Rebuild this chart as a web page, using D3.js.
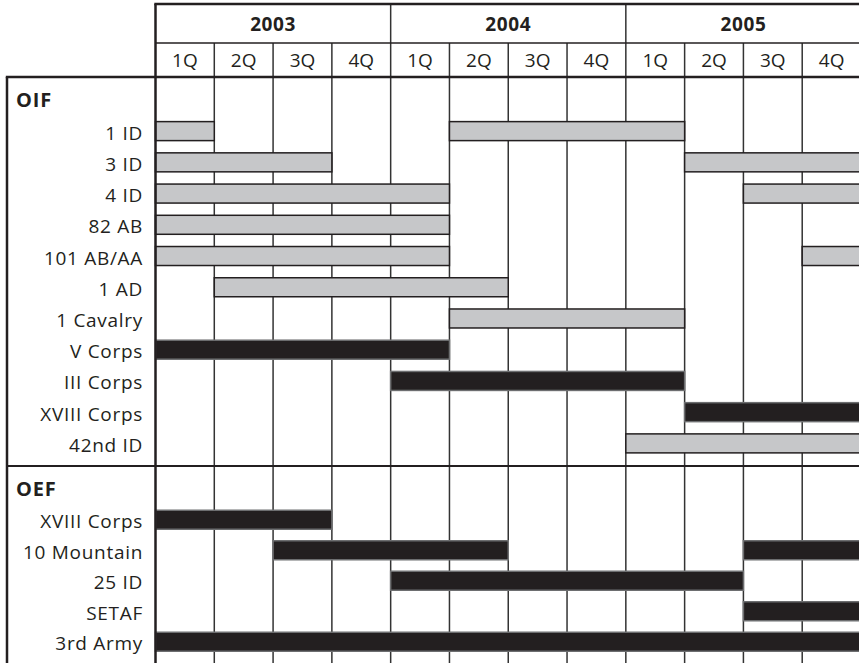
<!DOCTYPE html>
<html>
<head>
<meta charset="utf-8">
<script src="https://cdn.jsdelivr.net/npm/d3@7"></script>
<style>
  body { margin: 0; background: #fff; }
  text { font-family: "Open Sans", "Noto Sans", sans-serif; fill: #231f20; }
</style>
</head>
<body>
<svg id="chart" width="859" height="663"></svg>
<script>
var years = ["2003", "2004", "2005"];
var quarters = ["1Q", "2Q", "3Q", "4Q"];

// spans are [start quarter, end quarter], quarter 0 = 1Q 2003
var oifUnits = ["1 ID", "3 ID", "4 ID", "82 AB", "101 AB/AA", "1 AD", "1 Cavalry",
	"V Corps", "III Corps", "XVIII Corps", "42nd ID"];
var oifSpans = [
	[[0, 1], [5, 9]],
	[[0, 3], [9, 12]],
	[[0, 5], [10, 12]],
	[[0, 5]],
	[[0, 5], [11, 12]],
	[[1, 6]],
	[[5, 9]],
	[[0, 5]],
	[[4, 9]],
	[[9, 12]],
	[[8, 12]]
];
var oifKind = ["div", "div", "div", "div", "div", "div", "div", "corps", "corps", "corps", "div"];

var oefUnits = ["XVIII Corps", "10 Mountain", "25 ID", "SETAF", "3rd Army"];
var oefSpans = [
	[[0, 3]],
	[[2, 6], [10, 12]],
	[[4, 10]],
	[[10, 12]],
	[[0, 12]]
];
var oefKind = ["corps", "corps", "corps", "corps", "corps"];

var sections = [
	{name: "OIF", units: oifUnits, spans: oifSpans, kind: oifKind, top: 77, bottom: 466},
	{name: "OEF", units: oefUnits, spans: oefSpans, kind: oefKind, top: 466, bottom: 664}
];

var left = 7, gridLeft = 155.5, gridRight = 861;
var headTop = 4, yearBottom = 43, headBottom = 77;
var ink = "#231f20", barH = 19;
var fill = {div: "#c6c7c9", corps: "#231f20"};
var stroke = {div: "#231f20", corps: "#6d6e70"};

var x = d3.scaleLinear()
	.domain([0, years.length * quarters.length])
	.range([gridLeft, gridRight]);

var svg = d3.select("#chart");

var gridG = svg.append("g");
var barG = svg.append("g");
var frameG = svg.append("g");

// body vertical grid
gridG.selectAll(".vline")
	.data(d3.range(1, 13))
	.enter().append("line")
	.attr("x1", function(d) { return x(d); })
	.attr("x2", function(d) { return x(d); })
	.attr("y1", yearBottom)
	.attr("y2", 663)
	.attr("stroke", "#333")
	.attr("stroke-width", 1.5);

// year separators run through the year row too
gridG.selectAll(".yline")
	.data([4, 8])
	.enter().append("line")
	.attr("x1", function(d) { return x(d); })
	.attr("x2", function(d) { return x(d); })
	.attr("y1", headTop)
	.attr("y2", yearBottom)
	.attr("stroke", "#333")
	.attr("stroke-width", 1.5);

// year labels
svg.selectAll(".year")
	.data(years)
	.enter().append("text")
	.attr("x", function(d, i) { return x(i * 4 + 2); })
	.attr("y", 31)
	.attr("text-anchor", "middle")
	.style("font-weight", "bold")
	.style("font-size", "19px")
	.style("letter-spacing", "0.6px")
	.text(function(d) { return d; });

// quarter labels
var qLabels = [];
years.forEach(function(y) { quarters.forEach(function(q) { qLabels.push(q); }); });
svg.selectAll(".quarter")
	.data(qLabels)
	.enter().append("text")
	.attr("x", function(d, i) { return x(i + 0.5); })
	.attr("y", 67)
	.attr("text-anchor", "middle")
	.style("font-size", "19px")
	.text(function(d) { return d; });

sections.forEach(function(sec) {
	var y = d3.scaleBand()
		.domain(sec.units)
		.range([sec.top + 38.5, sec.bottom - 7]);
	var off = (y.step() - barH) / 2;

	svg.append("text")
		.attr("x", 16)
		.attr("y", sec.top + 30)
		.style("font-weight", "bold")
		.style("font-size", "20px")
		.style("letter-spacing", "0.8px")
		.text(sec.name);

	svg.selectAll(".lab-" + sec.name)
		.data(sec.units)
		.enter().append("text")
		.attr("x", 143)
		.attr("y", function(d) { return y(d) + y.step() / 2 + 8.5; })
		.attr("text-anchor", "end")
		.style("font-size", "19px")
		.style("letter-spacing", "0.7px")
		.text(function(d) { return d; });

	var bars = [];
	sec.units.forEach(function(u, i) {
		sec.spans[i].forEach(function(s) {
			bars.push({unit: u, start: s[0], end: s[1], kind: sec.kind[i]});
		});
	});

	barG.selectAll(".bar-" + sec.name)
		.data(bars)
		.enter().append("rect")
		.attr("x", function(d) { return x(d.start); })
		.attr("width", function(d) { return x(d.end) - x(d.start); })
		.attr("y", function(d) { return y(d.unit) + off; })
		.attr("height", barH)
		.attr("fill", function(d) { return fill[d.kind]; })
		.attr("stroke", function(d) { return stroke[d.kind]; })
		.attr("stroke-width", 1.5);
});

// frame
function hline(x1, x2, yy, w) {
	frameG.append("line").attr("x1", x1).attr("x2", x2).attr("y1", yy).attr("y2", yy)
		.attr("stroke", ink).attr("stroke-width", w);
}
function vline(xx, y1, y2, w) {
	frameG.append("line").attr("x1", xx).attr("x2", xx).attr("y1", y1).attr("y2", y2)
		.attr("stroke", ink).attr("stroke-width", w);
}
hline(gridLeft - 1.2, gridRight, headTop, 2.5);
hline(gridLeft, gridRight, yearBottom, 1.5);
hline(left - 1.2, gridRight, headBottom, 2.5);
hline(left, gridRight, sections[1].top, 2);
vline(gridLeft, headTop, 663, 2.5);
vline(left, headBottom, 663, 2.5);
</script>
</body>
</html>
